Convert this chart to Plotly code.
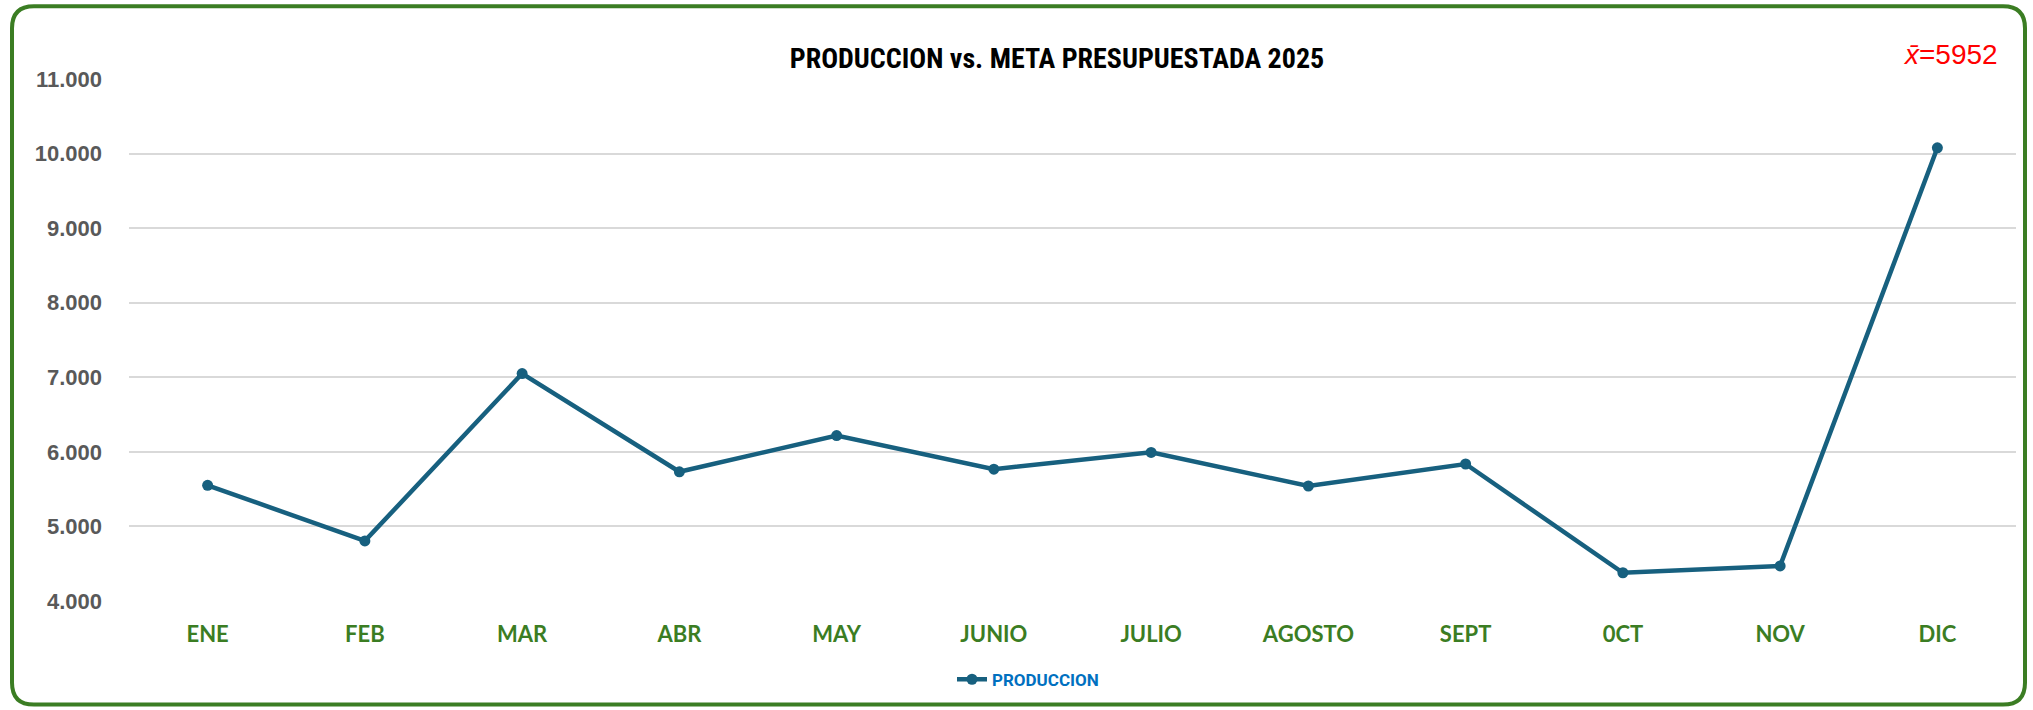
import plotly.graph_objects as go

# monthly production values
months = ["ENE", "FEB", "MAR", "ABR", "MAY", "JUNIO", "JULIO",
          "AGOSTO", "SEPT", "0CT", "NOV", "DIC"]
produccion = [5551, 4806, 7050, 5733, 6218, 5768, 5993, 5542, 5837, 4379, 4471, 10077]
y_ticks = [4000, 5000, 6000, 7000, 8000, 9000, 10000, 11000]
y_tick_labels = ["4.000", "5.000", "6.000", "7.000", "8.000", "9.000", "10.000", "11.000"]
mean_label = "5952"

W, H = 2033, 710
M_L, M_R, M_T, M_B = 129, 17, 79, 107
GREEN = "#3b7d23"
LINE = "#17607f"


def px_x(px):
    return (px - M_L) / (W - M_L - M_R)


def px_y(py):
    return (H - M_B - py) / (H - M_T - M_B)


def rounded_rect(x0, y0, x1, y1, r):
    # pixel box -> svg path in paper coords, rounded corners
    pts = [
        ("M", px_x(x0 + r), px_y(y0)),
        ("L", px_x(x1 - r), px_y(y0)),
        ("Q", px_x(x1), px_y(y0), px_x(x1), px_y(y0 + r)),
        ("L", px_x(x1), px_y(y1 - r)),
        ("Q", px_x(x1), px_y(y1), px_x(x1 - r), px_y(y1)),
        ("L", px_x(x0 + r), px_y(y1)),
        ("Q", px_x(x0), px_y(y1), px_x(x0), px_y(y1 - r)),
        ("L", px_x(x0), px_y(y0 + r)),
        ("Q", px_x(x0), px_y(y0), px_x(x0 + r), px_y(y0)),
    ]
    out = []
    for p in pts:
        cmd, nums = p[0], p[1:]
        coords = " ".join(f"{nums[i]:.5f},{nums[i + 1]:.5f}" for i in range(0, len(nums), 2))
        out.append(f"{cmd} {coords}")
    return " ".join(out) + " Z"


fig = go.Figure()
fig.add_trace(go.Scatter(
    x=months,
    y=produccion,
    mode="lines+markers",
    name="PRODUCCION",
    line=dict(color=LINE, width=4.5),
    marker=dict(color=LINE, size=11),
))

fig.update_layout(
    width=W,
    height=H,
    margin=dict(l=M_L, r=M_R, t=M_T, b=M_B),
    paper_bgcolor="white",
    plot_bgcolor="white",
    title=dict(
        text="PRODUCCION vs. META PRESUPUESTADA 2025",
        x=px_x(1057), xref="paper", xanchor="center",
        y=1 - 58 / H, yanchor="middle",
        font=dict(family="Liberation Sans Narrow, Roboto Condensed, Liberation Sans",
                  size=28, color="black", weight="bold"),
    ),
    showlegend=True,
    legend=dict(
        orientation="h",
        x=px_x(1028), xanchor="center",
        y=px_y(682), yanchor="middle",
        font=dict(family="Roboto, Liberation Sans", size=17, color="#0070c0", weight="bold"),
        bgcolor="rgba(0,0,0,0)",
    ),
    annotations=[dict(
        text=f"<i>x\u0304</i>={mean_label}",
        xref="paper", yref="paper",
        x=px_x(2000), xanchor="right",
        y=px_y(54), yanchor="middle",
        showarrow=False,
        font=dict(family="Liberation Sans, Arial", size=28, color="#ff0000"),
    )],
    shapes=[dict(
        type="path",
        xref="paper", yref="paper",
        path=rounded_rect(12, 6, 2025, 707, 22),
        line=dict(color=GREEN, width=4),
        fillcolor="rgba(0,0,0,0)",
        layer="above",
    )],
)

fig.update_xaxes(
    range=[-0.5, len(months) - 0.5],
    showgrid=False,
    showline=False,
    zeroline=False,
    ticks="",
    ticklabelstandoff=18,
    tickfont=dict(family="Lato, Liberation Sans", size=22, color=GREEN, weight="bold"),
)
fig.update_yaxes(
    range=[4000, 11000],
    tickvals=y_ticks,
    ticktext=y_tick_labels,
    showgrid=True,
    gridcolor="#d9d9d9",
    gridwidth=1.5,
    zeroline=False,
    showline=False,
    ticks="",
    ticklabelstandoff=26,
    tickfont=dict(family="Liberation Sans, Arial", size=22, color="#595959", weight="bold"),
)

# browser default body margin would shift the whole figure by 8px
fig.write_html("out.html", config={"displayModeBar": False},
               post_script="document.body.style.margin='0px';")
